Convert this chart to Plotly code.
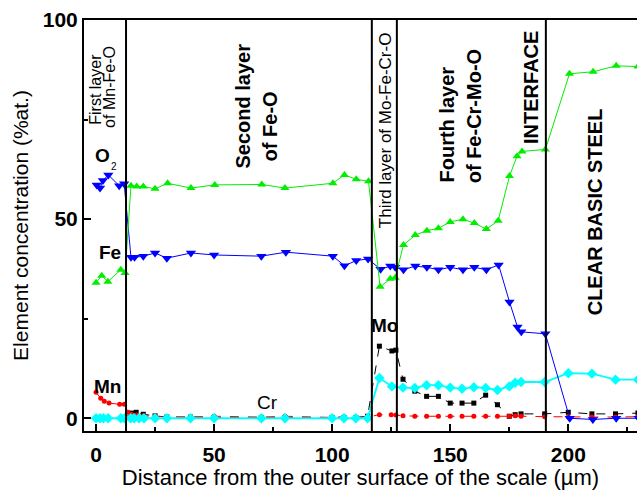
import plotly.graph_objects as go

# ---------------- data ----------------
fe_x = [0, 2.4, 5, 10.5, 12.3, 14.8, 17.2, 20, 25, 30.3, 40.2, 50.3, 70.2, 80, 100.3, 105.2, 110.2, 115.4,
        120.3, 124.6, 126.7, 130.2, 135.2, 140.1, 145, 150, 155.4, 160.2, 165.3, 170.3, 175.1, 178.3, 180.4,
        190.3, 200.5, 210.5, 220.3, 229.5]
fe_y = [34.0, 35.8, 34.3, 37.3, 36.5, 58.4, 58.2, 58.2, 57.6, 59.0, 57.8, 58.6, 58.7, 57.8, 59.0, 61.1, 60.0, 59.5,
        33.0, 35.0, 35.3, 43.5, 46.0, 47.1, 47.7, 49.3, 50.0, 49.0, 47.5, 49.6, 60.8, 65.8, 67.0,
        67.5, 86.5, 87.0, 88.5, 88.3]

o_x = [0.3, 1.7, 2.9, 5.2, 9.8, 11.9, 14.8, 16.3, 20, 25, 30, 40.2, 50, 70, 80.4, 100.3, 105.2, 110.2, 115.2,
       120.5, 124.6, 126.7, 130.2, 135.2, 140.1, 145, 150, 155.4, 160.2, 165.3, 170.5, 175.1, 178.5, 180.1,
       190.3, 200.6, 210.4, 220.3, 229.8]
o_y = [58.6, 57.8, 59.7, 61.1, 58.4, 58.9, 40.4, 40.4, 40.7, 41.5, 40.2, 41.5, 41.0, 40.7, 41.7, 40.7, 38.3, 39.6, 40.0,
       37.4, 38.2, 37.9, 37.3, 38.2, 37.9, 37.3, 37.9, 37.3, 37.9, 37.3, 38.5, 29.2, 22.9, 21.7,
       21.2, 0.0, -0.3, 0.0, 0.0]

mn_x = [0, 2, 3.5, 5.5, 10, 12, 13.5, 15, 17, 20, 25, 30, 40, 50, 70, 80, 100, 105, 110, 115,
        120, 125, 127, 130, 135, 140, 145, 150, 155, 160, 165, 170, 175, 177.5, 180, 190, 200, 210, 220, 229.5]
mn_y = [6.5, 5.0, 4.3, 3.8, 3.5, 3.5, 1.5, 1.0, 0.8, 0.6, 0.5, 0.3, 0.3, 0.5, 0.3, 0.5, 0.2, 0.4, 0.2, 0.3,
        0.9, 0.9, 0.8, 0.6, 0.5, 0.5, 0.5, 0.5, 0.5, 0.5, 0.5, 0.5, 0.5, 0.6, 0.5, 0.4, 0.3, 0.3, 0.3, 0.4]

mo_x = [12, 15, 17, 20, 25, 30, 40, 50, 70, 80, 100, 105, 110, 115,
        120, 125.3, 127, 130, 135, 140, 145, 150, 155, 160, 165, 170, 175, 177.5, 180, 190, 200, 210, 220, 229.5]
mo_y = [0.0, 1.3, 1.5, 1.0, 0.6, 0.3, 0.3, 0.2, 0.2, 0.2, 0.2, 0.2, 0.2, 0.5,
        18.1, 16.9, 17.1, 9.8, 6.8, 5.5, 5.5, 3.8, 3.8, 3.8, 5.8, 3.4, 0.5, 0.9, 1.1, 1.1, 1.5, 1.1, 1.1, 1.3]

cr_x = [0, 1.7, 3.1, 5.1, 10.5, 12, 14.7, 16.1, 18.2, 20.3, 25, 30, 40, 50, 70, 80, 100, 105, 110, 115,
        120, 125.3, 130, 135, 140, 145, 150, 155, 160, 165, 170, 175, 177.5, 180, 190, 200, 210, 220, 229.5]
cr_y = [0] * 20 + [10.1, 8.0, 7.7, 7.6, 8.3, 8.3, 7.7, 7.4, 7.8, 7.6, 7.1, 8.0, 8.9, 9.1, 9.1, 11.3, 11.2, 9.7, 9.7]

layer_boundaries = [12.7, 116.8, 127.4, 190.5]

x_ticks = [0, 50, 100, 150, 200]
y_ticks = [0, 50, 100]

# ---------------- figure ----------------
FONT = "Liberation Sans, Arial, sans-serif"
fig = go.Figure()

fig.add_trace(go.Scatter(x=mo_x, y=mo_y, mode="lines+markers", name="Mo",
                         line=dict(color="black", width=1, dash="dash"),
                         marker=dict(symbol="square", size=5, color="black")))
fig.add_trace(go.Scatter(x=mn_x, y=mn_y, mode="lines+markers", name="Mn",
                         line=dict(color="#ff0000", width=1, dash="dash"),
                         marker=dict(symbol="circle", size=5, color="#ff0000")))
fig.add_trace(go.Scatter(x=cr_x, y=cr_y, mode="lines+markers", name="Cr",
                         line=dict(color="#00ffff", width=1.8),
                         marker=dict(symbol="diamond", size=8, color="#00ffff")))
fig.add_trace(go.Scatter(x=o_x, y=o_y, mode="lines+markers", name="O2",
                         line=dict(color="#0000ff", width=1),
                         marker=dict(symbol="triangle-down", size=9, color="#0000ff")))
fig.add_trace(go.Scatter(x=fe_x, y=fe_y, mode="lines+markers", name="Fe",
                         line=dict(color="#00ee00", width=1),
                         marker=dict(symbol="triangle-up", size=8, color="#00ee00")))

for xb in layer_boundaries:
    fig.add_shape(type="line", xref="x", yref="paper", x0=xb, x1=xb, y0=0, y1=1,
                  line=dict(color="black", width=2))


def note(text, x, y, size, bold=False, angle=0):
    fig.add_annotation(text=text, x=x, y=y, xref="x", yref="y", showarrow=False,
                       textangle=angle, xanchor="center", yanchor="middle",
                       font=dict(family=FONT, size=size, color="black",
                                 weight="bold" if bold else "normal"))


note("First layer", 0.0, 82.5, 16, False, -90)
note("of Mn-Fe-O", 5.9, 83.2, 16, False, -90)
note("Second layer", 62.3, 78.3, 20, True, -90)
note("of Fe-O", 73.7, 73.3, 20, True, -90)
note("Third layer of Mo-Fe-Cr-O", 122.3, 72.3, 17, False, -90)
note("Fourth layer", 148.7, 73.8, 20, True, -90)
note("of Fe-Cr-Mo-O", 160.2, 75.9, 20, True, -90)
note("INTERFACE", 183.9, 83.0, 20, True, -90)
note("CLEAR BASIC STEEL", 211.2, 51.9, 20, True, -90)
note("O", 2.75, 66.1, 19, True)
note("2", 7.8, 63.1, 10, False)
note("Fe", 5.7, 41.6, 19, True)
note("Mn", 4.7, 8.0, 19, True)
note("Cr", 72.5, 4.0, 19, False)
note("Mo", 122.0, 23.4, 19, True)

fig.update_layout(
    width=639, height=490,
    margin=dict(l=84, r=2, t=20, b=57),
    paper_bgcolor="white", plot_bgcolor="white",
    showlegend=False,
    font=dict(family=FONT, color="black"),
)
fig.update_xaxes(
    range=[-5.1, 229.1], showgrid=False, zeroline=False,
    showline=True, linecolor="black", linewidth=2, mirror=True,
    ticks="inside", ticklen=7, tickwidth=2, tickcolor="black",
    tickvals=x_ticks, ticktext=[str(v) for v in x_ticks],
    tickfont=dict(family=FONT, size=21, color="black", weight="bold"),
    ticklabelstandoff=4,
    minor=dict(ticks="inside", ticklen=4, tickwidth=1.5, tickcolor="black", dtick=25, tick0=25),
    title=dict(text="Distance from the outer surface of the scale (µm)",
               font=dict(family=FONT, size=22, color="black"), standoff=6),
)
fig.update_yaxes(
    range=[-3.2, 100], showgrid=False, zeroline=False,
    showline=True, linecolor="black", linewidth=2, mirror=False,
    ticks="inside", ticklen=7, tickwidth=2, tickcolor="black",
    tickvals=y_ticks, ticktext=[str(v) for v in y_ticks],
    tickfont=dict(family=FONT, size=21, color="black", weight="bold"),
    minor=dict(ticks="inside", ticklen=4, tickwidth=1.5, tickcolor="black", dtick=25, tick0=25),
    title=dict(text="Element concentration (%at.)",
               font=dict(family=FONT, size=21, color="black"), standoff=8),
)

fig.write_html("out.html")
